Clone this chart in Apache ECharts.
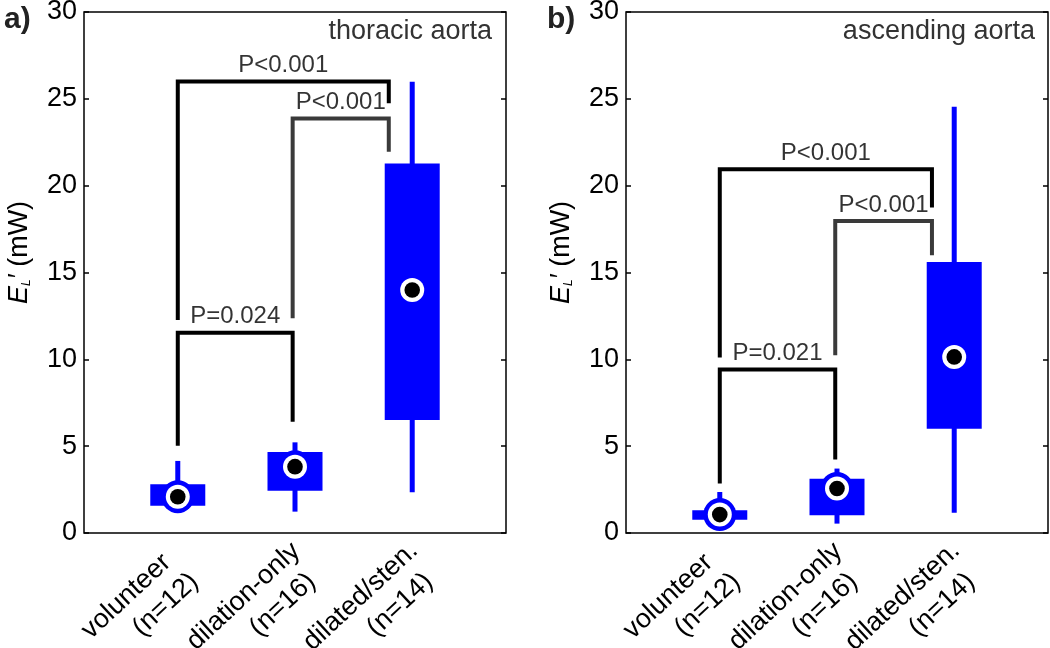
<!DOCTYPE html>
<html>
<head>
<meta charset="utf-8">
<script src="https://cdn.jsdelivr.net/npm/echarts@6/dist/echarts.min.js"></script>
<style>html,body{margin:0;padding:0;background:#fff;}#main{width:1050px;height:648px;}</style>
</head>
<body>
<div id="main"></div>
<script>
// ---- data ----
const categoryNames = ['volunteer', 'dilation-only', 'dilated/sten.'];
const categoryCounts = ['(n=12)', '(n=16)', '(n=14)'];
const categoryPos = [1, 2, 3];
const yTicks = [0, 5, 10, 15, 20, 25, 30];

// [position, whisker low, q1, median, q3, whisker high]
const thoracicBoxes = [
  [1, 1.3, 1.57, 2.09, 2.80, 4.15],
  [2, 1.23, 2.44, 3.82, 4.66, 5.22],
  [3, 2.34, 6.51, 13.99, 21.28, 25.98]
];
const ascendingBoxes = [
  [1, 0.35, 0.77, 1.06, 1.31, 2.36],
  [2, 0.54, 1.02, 2.56, 3.13, 3.71],
  [3, 1.17, 6.01, 10.14, 15.61, 24.54]
];

const thoracicBracketX = [[1.0, 1.0, 2.8, 2.8], [1.98, 1.98, 2.8, 2.8], [1.0, 1.0, 1.98, 1.98]];
const thoracicBracketY = [[12.26, 26.0, 26.0, 24.75], [12.36, 23.87, 23.87, 21.95], [5.03, 11.53, 11.53, 6.41]];
const thoracicPLabels = ['P<0.001', 'P<0.001', 'P=0.024'];

const ascendingBracketX = [[1.0, 1.0, 2.81, 2.81], [1.985, 1.985, 2.81, 2.81], [1.0, 1.0, 1.985, 1.985]];
const ascendingBracketY = [[10.1, 20.95, 20.95, 18.74], [10.24, 17.96, 17.96, 16.0], [2.85, 9.41, 9.41, 4.23]];
const ascendingPLabels = ['P<0.001', 'P<0.001', 'P=0.021'];

const panelTitles = ['thoracic aorta', 'ascending aorta'];
const panelLetters = ['a)', 'b)'];

// ---- styles ----
const FONT = 'Liberation Sans, Arial, Helvetica, sans-serif';
const BLUE = '#0000ff';
const bracketColors = ['#000000', '#3a3a3a', '#000000'];

function renderBox(params, api) {
  const x = api.value(0);
  const lo = api.coord([x, api.value(1)]);
  const q1 = api.coord([x, api.value(2)]);
  const med = api.coord([x, api.value(3)]);
  const q3 = api.coord([x, api.value(4)]);
  const hi = api.coord([x, api.value(5)]);
  const bw = 55, ww = 5;
  return {
    type: 'group',
    children: [
      {type: 'rect', shape: {x: lo[0] - ww / 2, y: hi[1], width: ww, height: lo[1] - hi[1]}, style: {fill: BLUE}},
      {type: 'rect', shape: {x: q3[0] - bw / 2, y: q3[1], width: bw, height: q1[1] - q3[1]}, style: {fill: BLUE}},
      {type: 'circle', shape: {cx: med[0], cy: med[1], r: 16.5}, style: {fill: BLUE}},
      {type: 'circle', shape: {cx: med[0], cy: med[1], r: 12}, style: {fill: '#ffffff'}},
      {type: 'circle', shape: {cx: med[0], cy: med[1], r: 7.8}, style: {fill: '#000000'}}
    ]
  };
}

const grids = [
  {left: 84, width: 422, top: 12, height: 521},
  {left: 626, width: 422, top: 12, height: 521}
];

const xAxes = [], yAxes = [], series = [], titles = [];
const panels = [
  {boxes: thoracicBoxes, bx: thoracicBracketX, by: thoracicBracketY, pl: thoracicPLabels},
  {boxes: ascendingBoxes, bx: ascendingBracketX, by: ascendingBracketY, pl: ascendingPLabels}
];

panels.forEach((p, i) => {
  xAxes.push({
    type: 'value', gridIndex: i, min: 0.2, max: 3.8, interval: 0.2,
    axisLine: {show: false}, axisTick: {show: false}, splitLine: {show: false},
    axisLabel: {
      customValues: categoryPos,
      formatter: v => {
        const k = Math.round(v) - 1;
        return categoryNames[k] ? '{a|' + categoryNames[k] + '}\n{b|' + categoryCounts[k] + '}' : '';
      },
      rotate: 43, align: 'center', verticalAlign: 'middle', padding: [0, 110, 0, 0],
      fontSize: 27, color: '#000', fontFamily: FONT, margin: 38, lineHeight: 33,
      rich: {
        a: {fontSize: 27, color: '#000', fontFamily: FONT, lineHeight: 33},
        b: {fontSize: 27, color: '#000', fontFamily: FONT, lineHeight: 33, padding: [0, 0, 0, 46]}
      }
    }
  });
  yAxes.push({
    type: 'value', gridIndex: i, min: 0, max: 30, interval: 5, position: 'left',
    axisLine: {show: false}, splitLine: {show: false},
    axisTick: {show: true, inside: true, length: 5, lineStyle: {color: '#000', width: 1.5}},
    axisLabel: {fontSize: 27, color: '#000', fontFamily: FONT, margin: 7,
      formatter: v => yTicks.includes(v) ? String(v) : ''},
    name: '{e|E}{sub|L}{e|′} (mW)',
    nameLocation: 'middle', nameGap: 51,
    nameTextStyle: {
      fontSize: 27, color: '#000', fontFamily: FONT, padding: [0, 0, 0, 40],
      rich: {
        e: {fontSize: 27, fontStyle: 'italic', fontFamily: FONT, color: '#000'},
        sub: {fontSize: 12, fontStyle: 'italic', fontFamily: FONT, color: '#000', verticalAlign: 'bottom', padding: [12, 0, 0, 0]}
      }
    }
  });
  yAxes.push({
    type: 'value', gridIndex: i, min: 0, max: 30, interval: 5, position: 'right',
    axisLine: {show: false}, splitLine: {show: false}, axisLabel: {show: false},
    axisTick: {show: true, inside: true, length: 5, lineStyle: {color: '#000', width: 1.5}}
  });
  series.push({
    type: 'custom', xAxisIndex: i, yAxisIndex: 2 * i, renderItem: renderBox,
    data: p.boxes, z: 2, silent: true
  });
  p.bx.forEach((xs, k) => {
    series.push({
      type: 'line', xAxisIndex: i, yAxisIndex: 2 * i, symbol: 'none', silent: true, z: 3,
      lineStyle: {color: bracketColors[k], width: 4, cap: 'butt', join: 'miter'},
      data: xs.map((x, j) => [x, p.by[k][j]])
    });
  });
  series.push({
    type: 'scatter', xAxisIndex: i, yAxisIndex: 2 * i, symbolSize: 0, silent: true, z: 4,
    label: {show: true, position: 'top', distance: 4, fontSize: 24, color: '#000', fontFamily: FONT,
      formatter: d => d.name},
    data: p.bx.map((xs, k) => ({name: p.pl[k], value: [(xs[1] + xs[2]) / 2, p.by[k][1]]}))
  });
  titles.push({
    text: panelTitles[i], right: i === 0 ? 1050 - 497 : 1050 - 1040, top: 13,
    textStyle: {fontSize: 27, fontWeight: 'normal', color: '#333', fontFamily: FONT}
  });
  titles.push({
    text: panelLetters[i], left: i === 0 ? -1 : 542, top: 0,
    textStyle: {fontSize: 30, fontWeight: 'bold', color: '#222', fontFamily: FONT}
  });
});

const chart = echarts.init(document.getElementById('main'), null, {renderer: 'canvas'});
chart.setOption({
  backgroundColor: '#fff',
  animation: false,
  title: titles,
  grid: grids.map(g => Object.assign({show: true, borderColor: '#000', borderWidth: 1.5, backgroundColor: 'transparent', containLabel: false, outerBoundsMode: 'none'}, g)),
  xAxis: xAxes,
  yAxis: yAxes,
  series: series
});
</script>
</body>
</html>
